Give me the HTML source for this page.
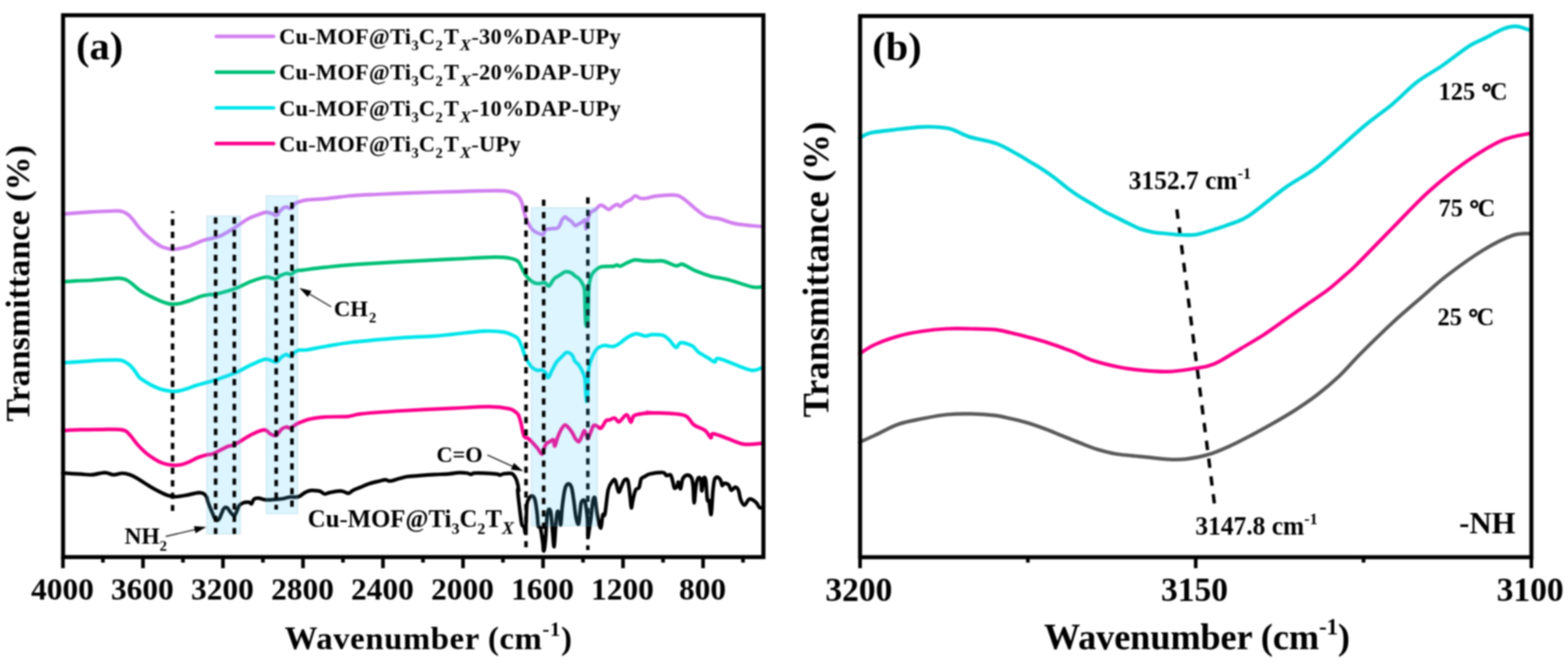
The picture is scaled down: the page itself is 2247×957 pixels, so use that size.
<!DOCTYPE html><html><head><meta charset="utf-8"><title>FTIR spectra</title><style>
html,body{margin:0;padding:0;background:#fff;width:2247px;height:957px;overflow:hidden}
svg{display:block;filter:blur(0.8px)}
text{font-family:"Liberation Serif","Times New Roman",serif;font-weight:bold;fill:#000}
</style></head><body>
<svg width="2247" height="957" viewBox="0 0 2247 957">
<rect width="2247" height="957" fill="#fff"/>
<path d="M90.0,306.6 C96.8,306.1 119.7,304.3 130.8,303.6 C141.9,302.9 150.3,302.8 156.7,302.5 C163.1,302.2 165.7,301.9 169.2,302.1 C172.7,302.3 175.1,302.8 177.6,303.8 C180.1,304.8 182.2,306.3 184.3,308.0 C186.4,309.7 187.7,311.3 190.1,314.2 C192.5,317.1 195.7,321.8 198.5,325.1 C201.3,328.5 204.1,331.5 206.9,334.3 C209.7,337.1 212.4,339.4 215.2,341.8 C218.0,344.2 220.8,346.6 223.6,348.5 C226.4,350.4 229.2,352.2 232.0,353.5 C234.8,354.8 237.5,355.4 240.3,356.0 C243.1,356.6 243.9,357.7 248.6,357.3 C253.3,356.9 261.3,355.8 268.4,353.6 C275.5,351.5 283.7,346.9 291.3,344.4 C298.9,341.9 306.9,341.6 314.2,338.7 C321.4,335.8 327.9,331.4 334.8,327.2 C341.7,323.0 349.6,316.7 355.5,313.4 C361.4,310.1 365.9,309.1 370.0,307.6 C374.1,306.1 377.3,304.6 380.4,304.2 C383.4,303.8 385.9,304.8 388.3,305.5 C390.7,306.2 393.1,308.1 394.6,308.5 C396.1,308.9 396.4,308.8 397.5,307.8 C398.6,306.8 399.8,304.1 401.3,302.4 C402.8,300.7 405.0,298.5 406.6,297.5 C408.2,296.5 409.5,296.2 410.8,296.3 C412.1,296.4 413.2,297.9 414.4,298.2 C415.6,298.5 416.8,299.0 418.1,298.0 C419.4,297.0 420.6,293.6 422.2,292.2 C423.8,290.8 424.5,290.5 427.5,289.5 C430.5,288.5 433.5,287.1 440.0,286.3 C446.5,285.5 456.1,285.6 466.6,284.6 C477.1,283.6 491.0,281.5 503.2,280.5 C515.4,279.5 527.8,279.1 540.0,278.5 C552.2,277.9 558.0,277.4 576.3,276.8 C594.5,276.2 627.5,275.2 649.5,274.6 C671.5,274.0 694.6,273.2 708.0,273.2 C721.4,273.2 724.3,273.4 730.0,274.6 C735.7,275.8 739.2,278.0 742.1,280.5 C745.0,283.0 746.2,286.1 747.5,289.4 C748.8,292.7 749.2,296.7 750.1,300.1 C751.0,303.5 751.8,306.7 752.8,309.8 C753.8,312.9 754.9,315.7 756.4,318.7 C757.9,321.7 759.6,325.2 761.7,327.6 C763.8,330.0 766.0,331.6 768.8,333.0 C771.6,334.4 776.5,336.3 778.6,335.7 C780.7,335.1 779.4,330.8 781.3,329.4 C783.2,328.0 787.1,328.2 790.2,327.6 C793.3,327.0 797.5,328.0 800.0,325.9 C802.5,323.8 803.7,317.7 805.3,315.2 C806.9,312.7 808.5,311.0 809.8,310.7 C811.1,310.4 811.7,312.2 813.3,313.4 C814.9,314.6 817.8,316.3 819.6,317.9 C821.4,319.5 822.5,322.6 824.0,323.2 C825.5,323.8 826.7,322.3 828.5,321.4 C830.3,320.5 833.0,318.9 834.7,317.9 C836.4,316.9 837.8,313.8 838.6,315.5 C839.4,317.2 839.1,327.6 839.6,328.0 C840.1,328.4 841.0,320.4 841.5,318.0 C842.0,315.6 841.9,315.6 842.7,313.4 C843.5,311.1 844.7,306.6 846.3,304.5 C847.9,302.4 850.0,302.7 852.5,300.9 C855.0,299.1 858.1,293.9 861.4,293.8 C864.7,293.7 869.4,299.7 872.1,300.1 C874.8,300.6 875.3,297.7 877.4,296.5 C879.5,295.3 882.6,293.0 884.5,292.9 C886.4,292.8 887.2,296.0 889.0,295.6 C890.8,295.2 892.7,291.9 895.2,290.3 C897.7,288.7 901.6,287.4 904.1,285.8 C906.6,284.2 908.1,280.8 910.3,280.5 C912.5,280.2 914.8,283.4 917.5,284.0 C920.2,284.6 922.9,284.5 926.4,284.0 C929.9,283.5 932.4,282.0 938.7,281.2 C945.0,280.4 957.7,279.0 964.2,279.4 C970.8,279.8 972.2,280.0 978.0,283.6 C983.8,287.2 993.1,296.5 998.9,300.9 C1004.7,305.3 1007.4,308.1 1012.8,310.2 C1018.2,312.3 1024.4,311.9 1031.3,313.6 C1038.2,315.3 1044.5,318.8 1054.4,320.6 C1064.4,322.4 1084.9,323.9 1091.0,324.5" fill="none" stroke="#D280F0" stroke-width="5.2" stroke-linejoin="round" stroke-linecap="round"/>
<path d="M90.0,403.8 C93.1,403.6 101.7,402.8 108.7,402.4 C115.7,402.0 124.3,402.0 132.1,401.5 C139.9,401.0 149.2,400.1 155.4,399.6 C161.6,399.1 165.8,398.7 169.4,398.7 C173.0,398.7 174.6,399.0 176.9,399.6 C179.2,400.2 181.2,401.0 183.5,402.4 C185.8,403.8 188.6,406.1 190.9,408.0 C193.2,409.9 195.3,411.9 197.5,413.6 C199.7,415.3 200.9,416.4 204.0,418.3 C207.1,420.2 211.8,422.7 216.2,424.9 C220.6,427.1 226.0,429.7 230.2,431.4 C234.4,433.1 238.3,434.4 241.4,435.1 C244.5,435.8 246.1,435.7 248.9,435.6 C251.7,435.5 254.3,435.6 258.2,434.7 C262.1,433.8 267.5,432.1 272.2,430.5 C276.9,428.9 281.7,426.3 286.3,424.9 C290.9,423.5 296.3,422.7 300.0,422.1 C303.7,421.5 302.3,422.9 308.5,421.5 C314.7,420.1 328.5,416.5 337.1,413.4 C345.7,410.3 352.7,405.8 360.0,403.1 C367.3,400.4 375.0,397.6 380.7,397.0 C386.4,396.4 391.0,400.0 394.4,399.7 C397.8,399.4 398.6,396.4 401.3,395.1 C404.0,393.8 407.8,392.1 410.5,391.7 C413.2,391.3 415.0,393.4 417.3,392.8 C419.6,392.2 421.2,389.2 424.2,388.2 C427.1,387.2 427.9,387.7 435.0,386.8 C442.1,385.9 455.2,384.1 466.6,382.9 C478.0,381.6 484.9,380.6 503.2,379.3 C521.5,378.0 551.9,376.2 576.3,374.9 C600.7,373.5 627.5,372.3 649.5,371.2 C671.5,370.1 694.6,368.6 708.0,368.3 C721.4,368.1 724.3,368.7 730.0,369.7 C735.7,370.7 739.4,372.0 742.2,374.2 C745.0,376.4 745.2,379.4 747.0,382.6 C748.8,385.8 751.0,390.5 753.0,393.5 C755.0,396.5 756.8,398.7 759.0,400.7 C761.2,402.7 763.9,404.6 766.3,405.5 C768.7,406.4 771.1,406.2 773.5,406.1 C775.9,406.0 778.5,404.3 780.7,404.9 C782.9,405.5 784.5,410.6 786.7,409.7 C788.9,408.8 791.3,402.1 793.9,399.5 C796.5,396.9 799.5,395.8 802.3,394.1 C805.1,392.4 807.9,389.8 810.7,389.3 C813.5,388.8 816.9,390.1 819.1,391.1 C821.3,392.1 822.1,393.9 823.9,395.3 C825.7,396.7 828.2,397.6 830.0,399.5 C831.8,401.4 833.5,404.1 834.8,406.7 C836.1,409.3 837.0,409.7 837.6,415.1 C838.2,420.5 838.1,431.3 838.4,439.1 C838.7,446.9 838.9,457.3 839.3,462.0 C839.7,466.7 840.5,467.6 841.0,467.4 C841.5,467.2 842.0,465.7 842.3,461.0 C842.6,456.3 842.7,447.6 843.0,439.1 C843.3,430.6 843.2,417.6 844.0,410.0 C844.8,402.4 846.1,397.6 848.0,393.5 C849.9,389.4 852.8,387.5 855.2,385.6 C857.6,383.7 858.4,382.7 862.4,382.0 C866.4,381.3 875.6,381.8 879.2,381.4 C882.8,381.0 882.4,379.6 884.0,379.6 C885.6,379.6 886.6,381.8 888.8,381.4 C891.0,381.0 893.9,378.7 897.3,377.2 C900.7,375.7 905.3,373.0 909.3,372.4 C913.3,371.8 917.0,373.3 921.3,373.6 C925.6,373.9 930.2,374.1 935.0,374.2 C939.8,374.2 944.7,372.8 950.3,373.9 C955.9,375.0 964.2,380.1 968.8,380.9 C973.4,381.7 973.4,377.5 978.0,378.6 C982.6,379.8 989.6,384.9 996.6,387.8 C1003.6,390.7 1012.0,393.8 1019.7,395.9 C1027.4,398.0 1033.2,398.0 1042.9,400.5 C1052.6,403.0 1069.5,409.2 1077.6,411.0 C1085.7,412.8 1089.2,411.0 1091.5,411.0" fill="none" stroke="#00C078" stroke-width="5.2" stroke-linejoin="round" stroke-linecap="round"/>
<path d="M90.0,519.6 C93.1,519.5 101.7,519.2 108.7,518.7 C115.7,518.2 124.3,517.3 132.1,516.8 C139.9,516.3 148.9,516.0 155.4,515.9 C161.9,515.8 167.4,515.5 171.3,515.9 C175.2,516.3 176.3,517.0 178.8,518.2 C181.3,519.5 184.0,521.3 186.3,523.4 C188.6,525.5 190.6,528.0 192.8,530.8 C195.0,533.6 197.4,538.0 199.3,540.2 C201.2,542.4 201.2,542.0 204.0,543.9 C206.8,545.8 211.8,549.1 216.2,551.4 C220.6,553.7 225.5,556.0 230.2,557.5 C234.9,559.0 240.1,559.8 244.2,560.3 C248.2,560.8 250.6,560.8 254.5,560.3 C258.4,559.8 263.1,558.4 267.6,557.0 C272.1,555.6 276.5,553.5 281.6,551.9 C286.7,550.3 293.5,548.7 298.0,547.5 C302.5,546.3 302.0,546.7 308.5,544.5 C315.0,542.3 328.5,537.8 337.1,534.2 C345.7,530.6 352.7,526.0 360.0,522.7 C367.3,519.5 374.8,515.4 380.7,514.7 C386.6,514.0 391.8,519.2 395.6,518.6 C399.4,518.0 401.1,513.1 403.6,511.3 C406.1,509.5 408.4,508.0 410.5,507.8 C412.6,507.6 413.5,511.1 416.2,510.1 C418.9,509.2 422.5,503.6 426.5,502.1 C430.5,500.6 433.3,502.2 440.0,501.2 C446.7,500.2 456.1,498.1 466.6,496.3 C477.1,494.5 484.9,492.6 503.2,490.5 C521.5,488.4 556.8,485.4 576.3,483.9 C595.8,482.4 608.0,482.5 620.2,481.7 C632.4,480.9 637.3,480.0 649.5,478.8 C661.7,477.6 681.2,474.9 693.4,474.4 C705.6,473.9 715.4,474.7 722.7,475.9 C730.0,477.1 733.9,480.0 737.3,481.7 C740.6,483.4 741.0,483.2 742.8,485.9 C744.6,488.6 746.4,493.3 748.1,497.7 C749.9,502.1 751.1,507.4 753.3,512.0 C755.5,516.6 758.5,522.1 761.1,525.1 C763.7,528.1 766.4,529.4 769.0,530.3 C771.6,531.2 774.6,529.6 776.8,530.3 C779.0,530.9 780.5,532.5 782.0,534.2 C783.5,536.0 784.4,541.4 785.9,540.8 C787.4,540.1 789.2,534.0 791.2,530.3 C793.2,526.6 795.3,521.9 797.7,518.6 C800.1,515.3 803.1,513.0 805.5,510.7 C807.9,508.4 809.7,505.1 812.1,504.8 C814.5,504.5 818.0,506.7 819.9,508.8 C821.8,510.9 822.3,515.0 823.8,517.3 C825.3,519.6 827.1,519.7 829.1,522.5 C831.1,525.3 834.1,530.7 835.6,534.2 C837.1,537.7 837.6,538.4 838.2,543.4 C838.9,548.4 839.1,559.0 839.5,564.3 C839.9,569.6 840.2,574.6 840.6,575.0 C841.0,575.4 841.6,574.4 842.1,566.9 C842.6,559.4 842.5,539.0 843.4,530.3 C844.3,521.6 845.3,519.6 847.3,514.6 C849.3,509.6 852.2,503.6 855.2,500.3 C858.2,497.0 861.7,495.6 865.6,495.0 C869.5,494.4 874.8,497.0 878.7,496.4 C882.6,495.8 885.8,493.2 889.1,491.1 C892.4,489.0 894.6,486.1 898.3,483.9 C902.0,481.7 907.0,478.5 911.4,478.1 C915.8,477.7 920.5,481.1 924.4,481.3 C928.3,481.5 930.7,479.5 935.0,479.4 C939.3,479.3 946.2,479.2 950.3,480.5 C954.4,481.8 956.4,484.5 959.5,487.4 C962.6,490.3 966.1,497.2 968.8,497.8 C971.5,498.4 971.8,491.3 975.7,490.9 C979.6,490.5 987.8,493.2 992.0,495.5 C996.2,497.8 997.4,501.9 1001.2,504.8 C1005.1,507.7 1011.2,510.6 1015.1,512.9 C1019.0,515.2 1021.6,518.4 1024.3,518.6 C1027.0,518.8 1022.8,512.1 1031.3,514.0 C1039.8,515.9 1065.3,528.1 1075.3,530.2 C1085.3,532.3 1088.8,527.3 1091.5,526.7" fill="none" stroke="#00E6EB" stroke-width="5.2" stroke-linejoin="round" stroke-linecap="round"/>
<path d="M90.0,616.9 C94.2,616.7 105.7,616.0 115.1,615.7 C124.5,615.4 137.0,615.4 146.4,615.3 C155.8,615.2 165.8,614.9 171.5,615.3 C177.2,615.7 177.6,616.0 180.3,617.6 C183.0,619.2 185.1,622.0 187.8,625.1 C190.5,628.2 193.1,632.4 196.6,636.4 C200.1,640.4 204.9,645.3 209.1,648.9 C213.3,652.5 217.4,655.2 221.6,657.7 C225.8,660.2 230.0,662.5 234.2,663.9 C238.4,665.3 242.5,666.1 246.7,666.4 C250.9,666.7 255.1,666.6 259.3,665.8 C263.5,665.0 267.6,663.2 271.8,661.4 C276.0,659.6 279.9,656.9 284.3,655.2 C288.7,653.5 294.6,652.0 298.0,651.2 C301.4,650.4 300.4,652.1 305.0,650.2 C309.6,648.3 320.3,642.2 325.7,639.9 C331.1,637.6 331.4,639.4 337.1,636.5 C342.8,633.6 353.1,626.2 360.0,622.7 C366.9,619.2 373.8,616.0 378.4,615.8 C383.0,615.6 384.6,620.2 387.5,621.6 C390.4,623.0 392.9,625.0 395.6,623.9 C398.3,622.8 401.1,616.7 403.6,614.7 C406.1,612.7 408.4,612.0 410.5,611.7 C412.6,611.4 413.5,613.9 416.2,613.1 C418.9,612.3 421.8,608.9 426.5,606.7 C431.2,604.6 437.9,601.8 444.6,600.2 C451.3,598.6 457.6,597.9 466.6,597.3 C475.6,596.7 490.3,597.3 498.8,596.6 C507.3,595.9 504.9,594.2 517.8,592.9 C530.7,591.5 554.3,589.8 576.3,588.5 C598.2,587.2 628.8,585.9 649.5,584.9 C670.2,583.9 687.3,582.6 700.7,582.7 C714.1,582.8 723.6,584.3 730.0,585.6 C736.4,586.9 736.8,589.0 739.0,590.5 C741.2,592.0 741.7,592.0 743.0,594.6 C744.3,597.2 745.3,601.2 746.6,606.2 C747.9,611.2 749.2,621.1 751.0,624.8 C752.8,628.5 755.1,626.6 757.3,628.4 C759.5,630.2 762.2,633.1 764.4,635.5 C766.6,637.9 768.5,640.1 770.6,642.6 C772.7,645.1 775.3,650.7 776.8,650.7 C778.3,650.7 778.5,645.1 779.5,642.6 C780.5,640.1 781.6,637.2 783.1,635.5 C784.6,633.8 786.8,633.3 788.4,632.4 C790.0,631.5 791.8,629.1 792.9,630.2 C794.0,631.3 794.1,639.7 795.1,639.1 C796.1,638.5 797.6,630.6 799.1,626.6 C800.6,622.6 802.6,618.0 804.4,615.0 C806.2,612.0 808.0,609.1 809.8,608.8 C811.6,608.5 813.3,611.4 815.1,613.3 C816.9,615.2 818.9,618.0 820.4,620.4 C821.9,622.8 822.5,625.4 824.0,627.5 C825.5,629.6 827.7,633.4 829.3,632.9 C830.9,632.4 832.4,627.5 833.8,624.8 C835.1,622.1 836.2,616.8 837.4,616.8 C838.6,616.8 840.0,622.9 840.9,624.8 C841.8,626.7 841.8,629.3 842.7,628.4 C843.6,627.5 845.0,622.6 846.3,619.5 C847.6,616.4 849.2,611.2 850.7,609.7 C852.2,608.2 853.4,609.6 855.2,610.2 C857.0,610.8 859.2,614.6 861.4,613.3 C863.6,612.0 866.6,604.5 868.5,602.6 C870.4,600.7 870.9,602.3 873.0,601.7 C875.1,601.1 878.6,598.5 881.0,599.0 C883.4,599.5 884.4,605.2 887.2,604.4 C890.0,603.6 895.1,594.0 897.9,594.1 C900.7,594.2 902.3,604.6 904.1,604.8 C905.9,605.0 905.6,597.6 908.6,595.5 C911.6,593.4 917.5,593.1 921.9,592.4 C926.3,591.7 934.1,591.7 935.0,591.5 C935.9,591.3 922.6,591.1 927.1,591.2 C931.6,591.4 952.6,591.6 961.9,592.4 C971.2,593.2 977.3,593.2 982.7,595.9 C988.1,598.6 989.7,605.1 994.3,608.6 C998.9,612.1 1006.5,613.6 1010.5,616.7 C1014.5,619.8 1016.7,626.3 1018.6,627.1 C1020.5,627.9 1018.0,621.1 1022.0,621.3 C1026.0,621.5 1035.6,625.8 1042.9,628.3 C1050.2,630.8 1057.9,635.2 1066.0,636.4 C1074.1,637.5 1087.2,635.4 1091.5,635.2" fill="none" stroke="#FF008C" stroke-width="5.2" stroke-linejoin="round" stroke-linecap="round"/>
<path d="M90.0,677.7 C94.2,678.0 108.2,678.8 115.1,679.2 C122.0,679.6 125.6,680.6 131.4,680.2 C137.2,679.9 145.0,677.1 150.2,677.1 C155.4,677.1 158.5,680.1 162.7,680.2 C166.9,680.4 171.3,678.0 175.3,678.0 C179.3,678.0 182.9,679.0 186.5,680.2 C190.1,681.4 191.8,682.5 196.6,685.3 C201.4,688.1 210.2,694.1 215.4,697.2 C220.6,700.3 223.7,702.0 227.9,704.1 C232.1,706.2 236.7,708.5 240.5,709.7 C244.3,711.0 246.3,711.6 250.5,711.6 C254.7,711.6 259.9,710.7 265.5,709.7 C271.1,708.8 279.9,706.3 284.3,705.9 C288.7,705.5 289.9,706.1 291.9,707.2 C293.9,708.3 295.3,710.5 296.3,712.5 C297.3,714.5 296.7,715.5 298.1,719.3 C299.5,723.1 302.6,731.0 304.5,735.3 C306.4,739.6 307.7,743.6 309.3,744.9 C310.9,746.2 312.2,746.0 314.1,743.3 C316.0,740.6 318.6,731.6 320.5,728.9 C322.4,726.2 323.7,726.5 325.3,727.3 C326.9,728.1 328.5,731.8 330.1,733.7 C331.7,735.6 333.6,738.2 334.9,738.5 C336.2,738.8 336.8,737.7 338.1,735.3 C339.4,732.9 341.0,726.6 342.9,724.1 C344.8,721.6 346.9,720.9 349.3,720.1 C351.7,719.4 355.4,719.3 357.3,719.6 C359.2,719.9 359.5,722.4 360.6,721.7 C361.7,721.0 362.2,716.6 363.8,715.3 C365.4,714.0 367.3,713.6 370.2,713.7 C373.1,713.8 377.1,715.8 381.4,716.1 C385.7,716.4 391.8,715.6 395.8,715.3 C399.8,715.0 402.2,715.0 405.4,714.5 C408.6,714.0 411.8,712.5 415.0,712.1 C418.2,711.7 422.1,712.4 424.6,712.1 C427.1,711.9 427.9,711.7 430.0,710.6 C432.1,709.5 434.5,706.9 437.1,705.6 C439.7,704.3 442.4,703.1 445.7,702.7 C449.0,702.3 454.6,703.0 457.1,703.4 C459.6,703.8 459.2,704.2 460.6,704.9 C462.0,705.6 463.6,707.6 465.6,707.7 C467.6,707.8 469.1,706.3 472.7,705.6 C476.3,704.9 483.4,703.5 487.0,703.4 C490.6,703.3 492.0,704.3 494.1,704.9 C496.2,705.5 497.9,707.1 499.8,706.7 C501.7,706.3 502.9,704.1 505.5,702.7 C508.1,701.3 511.4,700.1 515.4,698.5 C519.4,696.9 525.0,694.3 529.7,692.8 C534.5,691.2 540.1,690.1 543.9,689.2 C547.7,688.3 550.0,687.3 552.5,687.3 C555.0,687.3 555.6,689.5 558.9,689.2 C562.2,688.9 568.2,686.7 572.4,685.6 C576.5,684.5 579.0,683.5 583.8,682.8 C588.5,682.1 594.5,681.9 600.9,681.4 C607.3,680.9 615.2,680.3 622.3,679.9 C629.4,679.5 637.7,679.4 643.6,678.9 C649.5,678.4 653.6,677.3 657.9,677.1 C662.2,676.9 666.4,677.4 669.2,677.8 C672.0,678.2 673.2,679.7 674.9,679.7 C676.6,679.7 676.1,678.1 679.2,677.8 C682.3,677.5 688.0,677.6 693.5,677.8 C699.0,678.0 708.2,678.7 712.0,679.2 C715.8,679.7 714.6,680.7 716.2,680.6 C717.9,680.5 719.3,679.2 721.9,678.8 C724.5,678.4 729.5,677.9 731.9,678.2 C734.3,678.5 734.8,678.9 736.2,680.6 C737.6,682.3 739.3,684.8 740.5,688.5 C741.7,692.2 743.1,700.2 743.3,702.7 C743.5,705.2 741.4,697.2 741.9,703.5 C742.4,709.8 745.1,732.2 746.1,740.3 C747.1,748.4 747.2,749.5 748.0,752.0 C748.8,754.5 750.1,753.2 751.0,755.0 C751.9,756.8 752.6,767.8 753.3,762.8 C753.9,757.8 754.2,733.0 754.9,725.2 C755.5,717.4 756.0,718.3 757.2,715.8 C758.4,713.3 760.3,710.3 761.9,710.3 C763.5,710.3 765.3,711.5 766.6,715.8 C767.9,720.1 769.0,729.9 769.8,736.2 C770.6,742.5 770.5,750.0 771.3,753.4 C772.1,756.8 773.5,752.9 774.5,756.6 C775.5,760.3 776.8,769.9 777.6,775.4 C778.4,780.9 778.6,789.5 779.2,789.5 C779.9,789.5 780.7,783.5 781.5,775.4 C782.3,767.3 783.1,748.5 783.9,740.9 C784.7,733.3 785.3,730.9 786.2,729.9 C787.1,728.9 788.5,729.6 789.4,734.6 C790.3,739.6 790.9,751.6 791.7,759.7 C792.5,767.8 793.3,784.5 794.1,783.2 C794.9,781.9 795.6,760.2 796.4,751.9 C797.2,743.5 797.9,735.5 798.8,733.1 C799.7,730.8 801.1,734.7 801.9,737.8 C802.7,740.9 802.9,754.0 803.5,751.9 C804.1,749.8 804.8,733.8 805.8,725.2 C806.8,716.6 808.3,705.5 809.7,700.1 C811.1,694.8 812.8,693.4 814.4,693.1 C816.0,692.9 817.8,694.6 819.1,698.6 C820.4,702.6 821.2,710.4 822.3,717.4 C823.3,724.4 824.2,735.4 825.4,740.9 C826.6,746.4 828.1,753.4 829.3,750.3 C830.5,747.2 831.5,727.7 832.5,722.1 C833.5,716.5 834.6,716.9 835.6,716.6 C836.6,716.3 837.7,715.9 838.7,720.5 C839.8,725.1 841.2,735.9 841.9,744.0 C842.5,752.1 842.2,766.5 842.6,769.1 C843.0,771.7 843.5,763.9 844.2,759.7 C844.9,755.5 845.7,751.0 846.6,744.0 C847.5,737.0 848.7,722.4 849.7,717.4 C850.7,712.4 851.8,710.9 852.8,714.3 C853.8,717.7 854.7,730.8 856.0,737.8 C857.3,744.8 859.4,756.6 860.7,756.6 C862.0,756.6 862.8,741.2 863.8,737.8 C864.8,734.4 865.6,742.2 866.9,736.2 C868.2,730.2 869.8,709.5 871.6,701.7 C873.4,693.9 876.2,691.4 877.9,689.2 C879.6,687.0 880.4,685.8 881.8,688.4 C883.2,691.0 885.1,703.4 886.5,704.8 C887.9,706.2 889.0,699.9 890.4,697.0 C891.8,694.1 893.5,688.9 895.1,687.6 C896.7,686.3 898.6,685.0 899.9,689.2 C901.2,693.4 902.3,706.3 903.1,712.7 C903.9,719.1 904.0,727.1 904.7,727.6 C905.4,728.1 906.1,720.1 907.1,715.8 C908.1,711.5 909.6,704.6 911.0,701.7 C912.4,698.8 914.4,701.2 915.7,698.6 C917.0,696.0 917.5,688.6 918.8,686.0 C920.1,683.4 921.4,684.1 923.5,682.9 C925.6,681.7 926.8,680.0 931.3,679.0 C935.8,678.0 946.3,676.6 950.2,677.0 C954.1,677.4 953.1,680.7 954.9,681.3 C956.7,681.9 959.5,679.0 961.1,680.6 C962.7,682.2 963.4,687.7 964.3,690.8 C965.2,693.9 965.6,698.5 966.6,699.4 C967.6,700.3 969.6,697.6 970.5,696.2 C971.4,694.8 971.3,690.1 972.1,690.8 C972.9,691.5 974.2,701.0 975.2,700.2 C976.2,699.4 976.8,689.3 978.4,686.0 C980.0,682.7 982.5,680.9 984.6,680.6 C986.7,680.4 989.5,681.8 990.9,684.5 C992.3,687.2 992.6,691.0 993.3,697.0 C993.9,703.0 994.1,720.5 994.8,720.5 C995.4,720.5 996.3,702.9 997.2,697.0 C998.1,691.1 999.1,687.0 1000.3,685.3 C1001.5,683.6 1003.3,683.8 1004.2,686.8 C1005.1,689.8 1005.1,703.4 1005.8,703.3 C1006.5,703.2 1007.3,688.6 1008.2,686.0 C1009.1,683.4 1010.4,682.6 1011.3,687.6 C1012.2,692.6 1012.8,710.8 1013.6,715.8 C1014.4,720.8 1015.1,713.9 1016.0,717.4 C1016.9,720.9 1018.2,739.1 1019.1,737.0 C1020.0,734.9 1020.7,713.1 1021.5,704.9 C1022.3,696.7 1022.8,691.1 1023.8,687.6 C1024.8,684.1 1026.3,683.7 1027.7,683.7 C1029.1,683.7 1031.2,685.6 1032.4,687.6 C1033.6,689.6 1033.9,694.7 1034.8,695.5 C1035.7,696.3 1036.3,692.4 1037.9,692.3 C1039.5,692.2 1042.5,693.0 1044.2,694.7 C1045.9,696.4 1046.5,702.0 1048.1,702.5 C1049.7,703.0 1051.9,697.8 1053.6,697.8 C1055.3,697.8 1057.0,699.5 1058.3,702.5 C1059.6,705.5 1060.0,712.3 1061.4,715.8 C1062.8,719.3 1064.8,723.8 1066.9,723.7 C1069.0,723.6 1071.2,715.7 1074.0,715.0 C1076.8,714.3 1081.1,717.7 1083.4,719.7 C1085.8,721.7 1086.7,725.5 1088.1,726.8 C1089.5,728.1 1091.3,727.5 1092.0,727.6" fill="none" stroke="#000" stroke-width="5.2" stroke-linejoin="round" stroke-linecap="round"/>
<line x1="842.4" y1="282.8" x2="842.4" y2="788" stroke="#000" stroke-width="5" stroke-dasharray="9 8.8" fill="none"/>
<rect x="296.5" y="309.5" width="48" height="455.5" fill="rgb(70,202,250)" fill-opacity="0.19" stroke="rgb(120,180,210)" stroke-opacity="0.25" stroke-width="1.5"/>
<rect x="381.5" y="280.5" width="45" height="455.5" fill="rgb(70,202,250)" fill-opacity="0.19" stroke="rgb(120,180,210)" stroke-opacity="0.25" stroke-width="1.5"/>
<rect x="761.5" y="297.5" width="94.5" height="456" fill="rgb(70,202,250)" fill-opacity="0.19" stroke="rgb(120,180,210)" stroke-opacity="0.25" stroke-width="1.5"/>
<line x1="247.3" y1="302.5" x2="247.3" y2="732" stroke="#000" stroke-width="5" stroke-dasharray="9 8.8" stroke-dashoffset="6.2" fill="none"/>
<line x1="309" y1="311.6" x2="309" y2="765" stroke="#000" stroke-width="5" stroke-dasharray="9 8.8" stroke-dashoffset="0" fill="none"/>
<line x1="335.8" y1="311.6" x2="335.8" y2="765" stroke="#000" stroke-width="5" stroke-dasharray="9 8.8" stroke-dashoffset="0" fill="none"/>
<line x1="395.8" y1="296" x2="395.8" y2="730" stroke="#000" stroke-width="5" stroke-dasharray="9 8.8" stroke-dashoffset="0" fill="none"/>
<line x1="418.4" y1="289.9" x2="418.4" y2="730" stroke="#000" stroke-width="5" stroke-dasharray="9 8.8" stroke-dashoffset="0" fill="none"/>
<line x1="753.8" y1="294.7" x2="753.8" y2="784" stroke="#000" stroke-width="5" stroke-dasharray="9 8.8" stroke-dashoffset="0" fill="none"/>
<line x1="779.1" y1="286" x2="779.1" y2="790" stroke="#000" stroke-width="5" stroke-dasharray="9 8.8" stroke-dashoffset="0" fill="none"/>
<rect x="90.4" y="21.8" width="1003.6" height="776.3" fill="none" stroke="#000" stroke-width="5.8"/>
<line x1="90.2" y1="798" x2="90.2" y2="814" stroke="#000" stroke-width="5.2"/>
<line x1="147.5" y1="798" x2="147.5" y2="806" stroke="#000" stroke-width="5.2"/>
<line x1="204.9" y1="798" x2="204.9" y2="814" stroke="#000" stroke-width="5.2"/>
<line x1="262.2" y1="798" x2="262.2" y2="806" stroke="#000" stroke-width="5.2"/>
<line x1="319.5" y1="798" x2="319.5" y2="814" stroke="#000" stroke-width="5.2"/>
<line x1="376.8" y1="798" x2="376.8" y2="806" stroke="#000" stroke-width="5.2"/>
<line x1="434.2" y1="798" x2="434.2" y2="814" stroke="#000" stroke-width="5.2"/>
<line x1="491.5" y1="798" x2="491.5" y2="806" stroke="#000" stroke-width="5.2"/>
<line x1="548.8" y1="798" x2="548.8" y2="814" stroke="#000" stroke-width="5.2"/>
<line x1="606.2" y1="798" x2="606.2" y2="806" stroke="#000" stroke-width="5.2"/>
<line x1="663.5" y1="798" x2="663.5" y2="814" stroke="#000" stroke-width="5.2"/>
<line x1="720.8" y1="798" x2="720.8" y2="806" stroke="#000" stroke-width="5.2"/>
<line x1="778.2" y1="798" x2="778.2" y2="814" stroke="#000" stroke-width="5.2"/>
<line x1="835.5" y1="798" x2="835.5" y2="806" stroke="#000" stroke-width="5.2"/>
<line x1="892.8" y1="798" x2="892.8" y2="814" stroke="#000" stroke-width="5.2"/>
<line x1="950.2" y1="798" x2="950.2" y2="806" stroke="#000" stroke-width="5.2"/>
<line x1="1007.5" y1="798" x2="1007.5" y2="814" stroke="#000" stroke-width="5.2"/>
<line x1="1064.8" y1="798" x2="1064.8" y2="806" stroke="#000" stroke-width="5.2"/>
<text x="89.4" y="859" font-size="45" text-anchor="middle">4000</text>
<text x="204.1" y="859" font-size="45" text-anchor="middle">3600</text>
<text x="318.7" y="859" font-size="45" text-anchor="middle">3200</text>
<text x="433.4" y="859" font-size="45" text-anchor="middle">2800</text>
<text x="548.0" y="859" font-size="45" text-anchor="middle">2400</text>
<text x="662.7" y="859" font-size="45" text-anchor="middle">2000</text>
<text x="777.4" y="859" font-size="45" text-anchor="middle">1600</text>
<text x="892.0" y="859" font-size="45" text-anchor="middle">1200</text>
<text x="1006.7" y="859" font-size="45" text-anchor="middle">800</text>
<text x="408" y="929.5" font-size="47" letter-spacing="0.8">Wavenumber (cm<tspan dy="-19" font-size="30">-1</tspan><tspan dy="19">)</tspan></text>
<text transform="translate(42.4,604) rotate(-90)" font-size="48.6" letter-spacing="0.1">Transmittance (%)</text>
<text x="109" y="85" font-size="58">(a)</text>
<line x1="310" y1="52.1" x2="392" y2="52.1" stroke="#D280F0" stroke-width="5.2" stroke-linecap="round"/>
<text x="400" y="63.1" font-size="32" letter-spacing="0.42">Cu<tspan font-weight="normal">-</tspan>MOF@Ti<tspan font-size="21" dy="9">3</tspan><tspan dy="-9">C</tspan><tspan font-size="21" dy="9">2</tspan><tspan dy="-9" dx="1.5">T</tspan><tspan font-size="24" font-style="italic" dy="9" dx="1">X</tspan><tspan dy="-9"><tspan font-weight="normal">-</tspan>30%DAP<tspan font-weight="normal">-</tspan>UPy</tspan></text>
<line x1="310" y1="103.3" x2="392" y2="103.3" stroke="#00C078" stroke-width="5.2" stroke-linecap="round"/>
<text x="400" y="114.3" font-size="32" letter-spacing="0.42">Cu<tspan font-weight="normal">-</tspan>MOF@Ti<tspan font-size="21" dy="9">3</tspan><tspan dy="-9">C</tspan><tspan font-size="21" dy="9">2</tspan><tspan dy="-9" dx="1.5">T</tspan><tspan font-size="24" font-style="italic" dy="9" dx="1">X</tspan><tspan dy="-9"><tspan font-weight="normal">-</tspan>20%DAP<tspan font-weight="normal">-</tspan>UPy</tspan></text>
<line x1="310" y1="154.5" x2="392" y2="154.5" stroke="#00E6EB" stroke-width="5.2" stroke-linecap="round"/>
<text x="400" y="165.5" font-size="32" letter-spacing="0.42">Cu<tspan font-weight="normal">-</tspan>MOF@Ti<tspan font-size="21" dy="9">3</tspan><tspan dy="-9">C</tspan><tspan font-size="21" dy="9">2</tspan><tspan dy="-9" dx="1.5">T</tspan><tspan font-size="24" font-style="italic" dy="9" dx="1">X</tspan><tspan dy="-9"><tspan font-weight="normal">-</tspan>10%DAP<tspan font-weight="normal">-</tspan>UPy</tspan></text>
<line x1="310" y1="205.7" x2="392" y2="205.7" stroke="#FF008C" stroke-width="5.2" stroke-linecap="round"/>
<text x="400" y="216.7" font-size="32" letter-spacing="0.42">Cu<tspan font-weight="normal">-</tspan>MOF@Ti<tspan font-size="21" dy="9">3</tspan><tspan dy="-9">C</tspan><tspan font-size="21" dy="9">2</tspan><tspan dy="-9" dx="1.5">T</tspan><tspan font-size="24" font-style="italic" dy="9" dx="1">X</tspan><tspan dy="-9"><tspan font-weight="normal">-</tspan>UPy</tspan></text>
<text x="478.5" y="452.6" font-size="32.5">CH<tspan font-size="21" dy="9" dx="1.5">2</tspan></text>
<line x1="474.5" y1="439.5" x2="441.9" y2="420.2" stroke="#333" stroke-width="1.9"/><polygon points="429.0,412.5 446.3,416.7 441.0,425.6" fill="#000"/>
<text x="625.5" y="661.5" font-size="32">C=O</text>
<line x1="698.5" y1="651.8" x2="736.1" y2="668.8" stroke="#333" stroke-width="1.9"/><polygon points="749.8,675.0 732.2,672.7 736.5,663.3" fill="#000"/>
<text x="178.5" y="778.6" font-size="33.5">NH<tspan font-size="21" dy="10">2</tspan></text>
<line x1="237.5" y1="768.5" x2="281.0" y2="758.4" stroke="#333" stroke-width="1.9"/><polygon points="295.6,755.0 280.2,763.9 277.9,753.8" fill="#000"/>
<text x="441" y="755" font-size="35.5">Cu<tspan font-weight="normal">-</tspan>MOF@Ti<tspan font-size="23" dy="10">3</tspan><tspan dy="-10">C</tspan><tspan font-size="23" dy="10">2</tspan><tspan dy="-10">T</tspan><tspan font-size="26" font-style="italic" dy="10">X</tspan></text>
<line x1="1686.5" y1="300" x2="1741" y2="727" stroke="#000" stroke-width="4.8" stroke-dasharray="13.5 12.2" fill="none"/>
<path d="M1232.0,197.7 C1234.4,196.5 1238.6,192.5 1246.3,190.6 C1254.0,188.7 1265.3,187.8 1278.3,186.3 C1291.3,184.8 1310.9,182.0 1324.5,181.7 C1338.1,181.3 1349.3,181.8 1360.0,184.2 C1370.7,186.6 1377.2,192.3 1388.5,195.9 C1399.8,199.5 1416.0,201.3 1427.6,205.5 C1439.1,209.7 1449.8,216.6 1457.8,220.9 C1465.8,225.2 1469.6,227.9 1475.5,231.5 C1481.4,235.1 1487.4,238.3 1493.3,242.2 C1499.2,246.0 1505.2,250.2 1511.1,254.6 C1517.0,259.0 1522.9,264.4 1528.8,268.8 C1534.7,273.2 1540.7,277.5 1546.6,281.3 C1552.5,285.1 1558.5,288.3 1564.4,291.9 C1570.3,295.4 1576.2,299.3 1582.1,302.6 C1588.0,305.9 1594.0,308.5 1599.9,311.5 C1605.8,314.5 1611.8,317.6 1617.7,320.4 C1623.6,323.2 1629.5,326.3 1635.4,328.4 C1641.3,330.5 1647.3,331.8 1653.2,332.8 C1659.1,333.8 1664.5,334.0 1671.0,334.6 C1677.5,335.2 1685.5,336.1 1692.3,336.4 C1699.1,336.7 1705.1,337.3 1711.9,336.4 C1718.7,335.5 1725.2,333.4 1733.2,331.0 C1741.2,328.6 1750.7,325.7 1760.0,322.1 C1769.3,318.5 1775.1,318.4 1788.8,309.5 C1802.5,300.6 1825.5,280.5 1842.1,268.7 C1858.7,256.9 1869.3,253.3 1888.3,238.5 C1907.2,223.7 1938.0,194.7 1955.8,179.9 C1973.5,165.1 1982.4,160.1 1994.8,149.7 C2007.2,139.3 2018.6,126.9 2030.4,117.7 C2042.2,108.5 2053.5,103.2 2065.9,94.6 C2078.3,86.0 2094.9,72.7 2105.0,66.2 C2115.1,59.7 2118.0,59.6 2126.3,55.5 C2134.6,51.4 2147.0,44.2 2154.7,41.3 C2162.4,38.3 2166.3,37.5 2172.5,37.8 C2178.7,38.1 2188.8,42.2 2192.0,43.1" fill="none" stroke="#00D7DC" stroke-width="5.4" stroke-linejoin="round" stroke-linecap="round"/>
<path d="M1232.0,506.7 C1235.5,504.6 1243.8,498.2 1253.0,494.0 C1262.2,489.8 1276.0,484.6 1287.5,481.4 C1299.0,478.1 1310.5,476.2 1322.0,474.5 C1333.5,472.8 1345.0,471.6 1356.5,471.0 C1368.0,470.4 1379.5,470.8 1391.0,471.0 C1402.5,471.2 1415.9,471.2 1425.5,472.2 C1435.1,473.2 1440.8,475.1 1448.5,476.8 C1456.2,478.5 1462.9,480.2 1471.5,482.5 C1480.1,484.8 1489.0,486.9 1500.0,490.5 C1511.0,494.1 1527.1,499.8 1537.6,503.9 C1548.0,508.0 1552.2,511.7 1562.7,515.2 C1573.2,518.8 1587.8,522.6 1600.3,525.2 C1612.8,527.8 1625.4,529.5 1637.9,530.7 C1650.4,531.9 1663.0,532.8 1675.5,532.3 C1688.0,531.8 1703.8,529.1 1713.1,527.8 C1722.4,526.5 1725.8,525.9 1731.4,524.3 C1737.1,522.7 1739.2,522.2 1747.0,518.0 C1754.8,513.8 1767.9,505.5 1778.4,499.2 C1788.9,492.9 1799.3,487.2 1809.8,480.4 C1820.3,473.6 1830.8,465.7 1841.2,458.4 C1851.7,451.1 1862.0,443.8 1872.5,436.5 C1883.0,429.2 1895.0,421.3 1903.9,414.5 C1912.8,407.7 1919.0,401.7 1925.8,395.7 C1932.6,389.7 1933.1,390.0 1944.7,378.5 C1956.3,367.0 1978.1,344.1 1995.2,326.8 C2012.3,309.5 2030.0,290.2 2047.4,274.5 C2064.8,258.8 2082.3,244.9 2099.7,232.7 C2117.1,220.5 2136.3,208.4 2151.9,201.4 C2167.5,194.4 2186.2,192.7 2193.0,190.9" fill="none" stroke="#FF008C" stroke-width="5.2" stroke-linejoin="round" stroke-linecap="round"/>
<path d="M1232.0,633.5 C1235.5,631.9 1243.8,628.3 1253.0,624.0 C1262.2,619.7 1276.0,611.8 1287.5,607.8 C1299.0,603.8 1310.5,602.1 1322.0,599.8 C1333.5,597.5 1345.0,595.1 1356.5,594.0 C1368.0,592.9 1379.5,592.7 1391.0,592.9 C1402.5,593.1 1415.9,594.1 1425.5,595.2 C1435.1,596.4 1440.8,598.1 1448.5,599.8 C1456.2,601.5 1463.3,603.1 1471.5,605.6 C1479.7,608.1 1489.2,611.4 1497.7,614.5 C1506.2,617.6 1514.3,621.2 1522.6,624.5 C1530.9,627.8 1539.2,631.3 1547.5,634.5 C1555.8,637.7 1563.6,641.1 1572.4,643.8 C1581.2,646.5 1589.4,648.8 1600.3,650.5 C1611.2,652.2 1625.4,653.0 1637.9,654.3 C1650.4,655.6 1665.2,657.5 1675.5,658.1 C1685.8,658.7 1690.7,658.7 1700.0,657.6 C1709.3,656.5 1721.0,654.4 1731.4,651.3 C1741.9,648.2 1752.2,643.5 1762.7,638.8 C1773.2,634.1 1783.6,628.6 1794.1,623.1 C1804.6,617.6 1815.0,611.8 1825.5,605.8 C1836.0,599.8 1846.3,593.8 1856.8,587.0 C1867.2,580.2 1877.7,573.2 1888.2,565.1 C1898.7,557.0 1909.1,548.3 1919.6,538.4 C1930.0,528.5 1938.3,518.1 1950.9,505.5 C1963.5,492.9 1980.9,475.9 1995.2,462.6 C2009.5,449.4 2024.0,437.3 2037.0,426.0 C2050.1,414.7 2058.7,406.0 2073.5,394.7 C2088.3,383.4 2110.1,367.7 2125.8,358.1 C2141.5,348.5 2156.4,341.1 2167.6,337.2 C2178.8,333.3 2188.8,335.0 2193.0,334.6" fill="none" stroke="#5A5A5A" stroke-width="5.2" stroke-linejoin="round" stroke-linecap="round"/>
<rect x="1232.5" y="23" width="962" height="775.3" fill="none" stroke="#000" stroke-width="5.8"/>
<line x1="1232.5" y1="798" x2="1232.5" y2="814" stroke="#000" stroke-width="5.2"/>
<line x1="1473.0" y1="798" x2="1473.0" y2="806" stroke="#000" stroke-width="5.2"/>
<line x1="1713.5" y1="798" x2="1713.5" y2="814" stroke="#000" stroke-width="5.2"/>
<line x1="1954.0" y1="798" x2="1954.0" y2="806" stroke="#000" stroke-width="5.2"/>
<line x1="2194.5" y1="798" x2="2194.5" y2="814" stroke="#000" stroke-width="5.2"/>
<text x="1230.7" y="861" font-size="48" text-anchor="middle">3200</text>
<text x="1711.7" y="861" font-size="48" text-anchor="middle">3150</text>
<text x="2192.7" y="861" font-size="48" text-anchor="middle">3100</text>
<text x="1496" y="930" font-size="52" letter-spacing="-0.15">Wavenumber (cm<tspan dy="-21" font-size="33">-1</tspan><tspan dy="21">)</tspan></text>
<text transform="translate(1187,598) rotate(-90)" font-size="52" letter-spacing="0.1">Transmittance (%)</text>
<text x="1250" y="85.5" font-size="58">(b)</text>
<text transform="translate(1617.5,271) scale(0.96,1)" font-size="38">3152.7 cm<tspan font-size="24" dy="-15">-1</tspan></text>
<text transform="translate(1713,765.5) scale(0.96,1)" font-size="38">3147.8 cm<tspan font-size="24" dy="-15">-1</tspan></text>
<text x="2061.5" y="142.6" font-size="35">125 <tspan stroke="#000" stroke-width="1.3" font-size="35" dy="1.3" dx="0.5">°</tspan><tspan dx="-2.2" dy="-1.3">C</tspan></text>
<text x="2061.5" y="309.5" font-size="35">75 <tspan stroke="#000" stroke-width="1.3" font-size="35" dy="1.3" dx="0.5">°</tspan><tspan dx="-2.2" dy="-1.3">C</tspan></text>
<text x="2060" y="466" font-size="35">25 <tspan stroke="#000" stroke-width="1.3" font-size="35" dy="1.3" dx="0.5">°</tspan><tspan dx="-2.2" dy="-1.3">C</tspan></text>
<text x="2091" y="763.6" font-size="44">-NH</text>
</svg></body></html>
